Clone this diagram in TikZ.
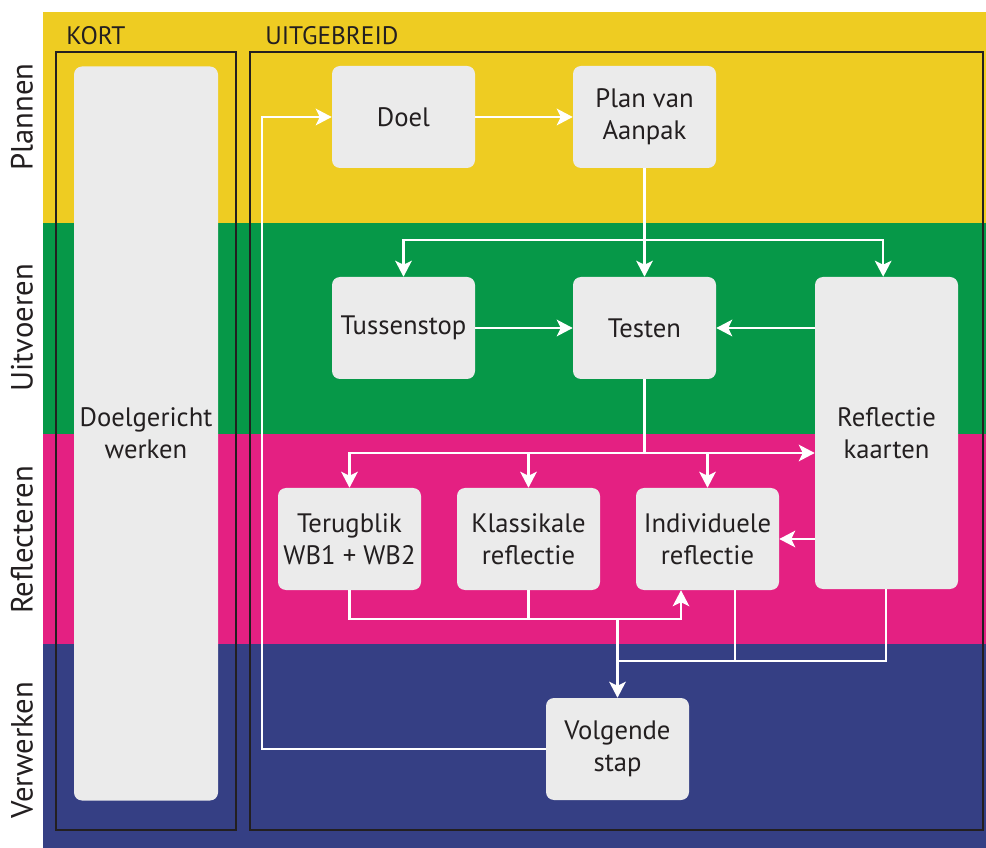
\documentclass[tikz,border=0pt]{standalone}
\usepackage{fontspec}
\setmainfont{PT Sans}
\usetikzlibrary{arrows.meta,calc}
\definecolor{bandyellow}{RGB}{238,204,34}
\definecolor{bandgreen}{RGB}{6,152,72}
\definecolor{bandpink}{RGB}{228,32,130}
\definecolor{bandblue}{RGB}{53,63,132}
\definecolor{boxgray}{RGB}{235,235,235}
\definecolor{ink}{RGB}{35,31,32}
\tikzset{
  x=0.75pt, y=-0.75pt,
  stepbox/.style={fill=boxgray, rounded corners=6pt, inner sep=0pt, align=center,
    minimum width=107.25pt, minimum height=76.5pt, text=ink,
    font=\fontsize{20}{24}\selectfont},
  frame/.style={draw=ink, line width=1.9pt},
  flow/.style={draw=white, line width=1.6pt},
  arr/.style={flow, -{Stealth[length=12pt,width=12.5pt,inset=3pt]}},
  lane/.style={rotate=90, text=ink, font=\fontsize{23}{27}\selectfont},
  head/.style={anchor=base west, inner sep=0pt, text=ink, font=\fontsize{19}{22}\selectfont},
}
\begin{document}
\begin{tikzpicture}
  % canvas and coloured phase bands
  \fill[white] (0,0) rectangle (986,848);
  \useasboundingbox (0,0) rectangle (986,848);
  \fill[bandyellow] (43,12) rectangle (986,223);
  \fill[bandgreen]  (43,223) rectangle (986,434);
  \fill[bandpink]   (43,434) rectangle (986,644);
  \fill[bandblue]   (43,644) rectangle (986,848);

  % phase labels
  \node[lane] (lplan) at (22,117) {Plannen};
  \node[lane] (luitv) at (22,328) {Uitvoeren};
  \node[lane] (lrefl) at (22,540) {Reflecteren};
  \node[lane] (lverw) at (22,750) {Verwerken};

  % column frames
  \draw[frame] (56,52) rectangle (236,830);
  \draw[frame] (250,52) rectangle (983,830);
  \node[head] (hkort) at (66,45) {KORT};
  \node[head] (huitg) at (265,45) {UITGEBREID};

  % steps
  \node[stepbox, minimum width=108pt, minimum height=550.5pt] (doelg) at (146,433.5) {Doelgericht\\werken};
  \node[stepbox] (doel)   at (403.5,117) {Doel};
  \node[stepbox] (plan)   at (644.5,117) {Plan van\\Aanpak};
  \node[stepbox] (tuss)   at (403.5,328) {Tussenstop};
  \node[stepbox] (testen) at (644.5,328) {Testen};
  \node[stepbox, minimum height=234pt] (refl) at (886.5,433) {Reflectie\\kaarten};
  \node[stepbox] (terug)  at (349.5,539) {Terugblik\\WB1 + WB2};
  \node[stepbox] (klass)  at (528.5,539) {Klassikale\\reflectie};
  \node[stepbox] (indiv)  at (707.5,539) {Individuele\\reflectie};
  \node[stepbox] (volg)   at (617.5,749) {Volgende\\stap};

  % routing points
  \coordinate (loopx)  at (262,749);
  \coordinate (split1) at (644.5,240);
  \coordinate (split2) at (644.5,453);
  \coordinate (join1)  at (617.5,619);
  \coordinate (join2)  at (617.5,661);

  % planning
  \draw[arr] (doel) -- (plan);
  \draw[arr] (volg.west) -- (loopx) |- (doel.west);
  \draw[arr] (plan.south) -- (testen.north);
  \draw[arr] (split1) -| (tuss.north);
  \draw[arr] (split1) -| ([xshift=-2.5pt]refl.north);

  % execution
  \draw[arr] (tuss) -- (testen);
  \draw[arr] (refl.west |- testen) -- (testen.east);

  % reflection
  \draw[arr] (testen.south) |- (refl.west |- split2);
  \draw[arr] (split2) -| (terug.north);
  \draw[arr] (split2) -| (klass.north);
  \draw[arr] (split2) -| (indiv.north);
  \draw[arr] (refl.west |- indiv) -- (indiv.east);

  % towards the next step
  \draw[flow] (klass.south) -- (klass.south |- join1);
  \draw[arr] (terug.south) |- (join1) -| ($(indiv.south)+(-26.5,0)$);
  \draw[flow] ($(indiv.south)+(27.5,0)$) |- (join2);
  \draw[flow] ([xshift=-0.5pt]refl.south) |- (join2);
  \draw[arr] (join1) -- (volg.north);
\end{tikzpicture}
\end{document}
